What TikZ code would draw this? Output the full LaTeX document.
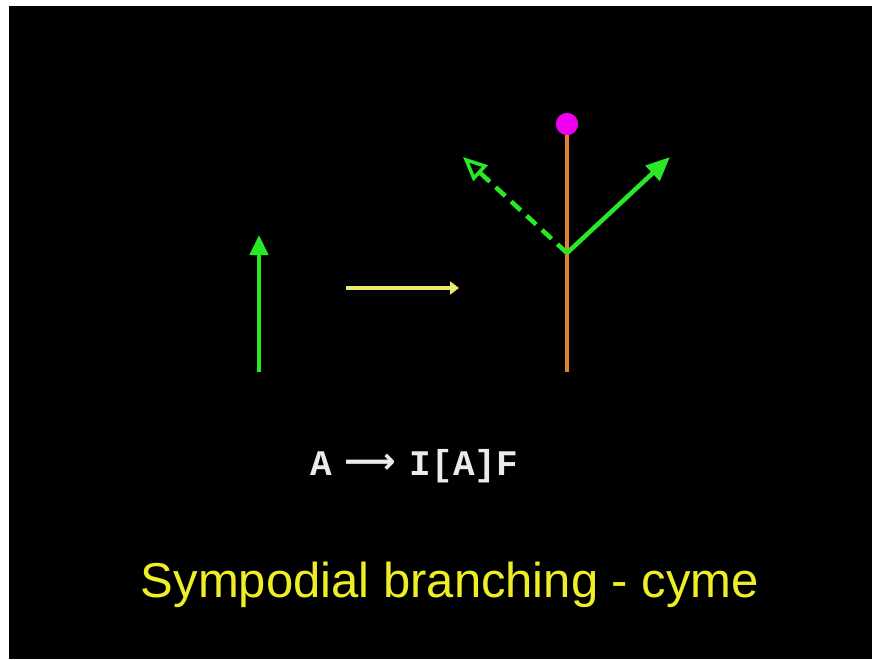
\documentclass[tikz,border=0pt]{standalone}
\usepackage{fontspec}
\setmainfont{Liberation Sans}
\newfontfamily\monofnt{Liberation Mono}
\newfontfamily\arrowfnt{DejaVu Sans}
\usetikzlibrary{arrows.meta}
\definecolor{grn}{RGB}{40,232,40}
\definecolor{orng}{RGB}{222,130,50}
\definecolor{mag}{RGB}{240,0,240}
\definecolor{paleyel}{RGB}{235,235,110}
\definecolor{titleyel}{RGB}{238,238,40}
\definecolor{txtgray}{RGB}{235,235,235}
\tikzset{
  greenarrow/.style={draw=grn, line width=4.5pt, -{Triangle[length=20pt,width=18pt]}},
  diagarrow/.style={draw=grn, line width=4.5pt, -{Triangle[length=24pt,width=20pt]}},
  dashgreen/.style={draw=grn, line width=4.5pt, dash pattern=on 13pt off 8pt, -{Triangle[open,length=24pt,width=21pt,line width=3.5pt]}},
  stem/.style={draw=orng, line width=4.5pt},
  yelarrow/.style={draw=paleyel, line width=3.5pt, -{Triangle[length=9pt,width=13pt]}},
  expr/.style={text=txtgray, font=\monofnt\bfseries\fontsize{36}{40}\selectfont, inner sep=0pt, anchor=base},
  title/.style={text=titleyel, font=\fontsize{49}{56}\selectfont, inner sep=0pt, anchor=base}
}
\begin{document}
\begin{tikzpicture}[x=1pt,y=-1pt]
\useasboundingbox (0,0) rectangle (872,659);
\fill[white] (0,0) rectangle (872,659);
\fill[black] (9,6) rectangle (872,659);
% left green arrow
\coordinate (gbot) at (259,372);
\coordinate (gtop) at (259,235);
\draw[greenarrow] (gbot) -- (gtop);
% yellow arrow
\coordinate (ystart) at (346,288);
\coordinate (yend) at (459,288);
\draw[yelarrow] (ystart) -- (yend);
% sympodial structure
\coordinate (base) at (567,372);
\coordinate (fork) at (567,253);
\node[circle, fill=mag, inner sep=0pt, minimum size=22pt] (apex) at (567,124) {};
\draw[stem] (base) -- (apex.center);
\fill[mag] (apex.center) circle (11pt);
\coordinate (rtip) at (670,157);
\coordinate (ltip) at (463,157);
\draw[diagarrow] (fork) -- (rtip);
\draw[dashgreen] (fork) -- (ltip);
% expression
\node[expr] (ea) at (321,475) {A};
\node[text=txtgray, font=\arrowfnt\bfseries\fontsize{36}{40}\selectfont, inner sep=0pt, anchor=base] (earr) at (370,473) {⟶};
\node[expr] (erule) at (464,475) {I[A]F};
% title
\node[title] (ttl) at (450,597) {Sympodial branching - cyme};
\end{tikzpicture}
\end{document}
